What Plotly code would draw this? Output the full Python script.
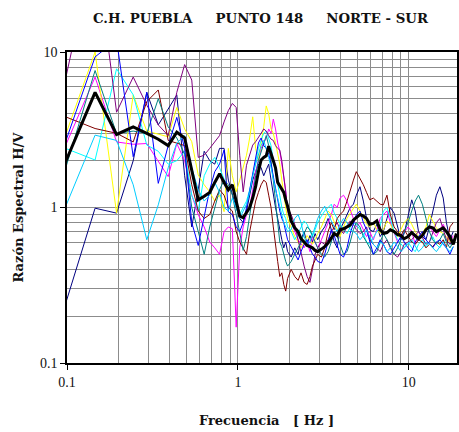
import plotly.graph_objects as go

FREQ = [0.098, 0.146, 0.195, 0.244, 0.293, 0.342, 0.391, 0.439, 0.488, 0.537, 0.586, 0.635, 0.684, 0.732, 0.781, 0.830, 0.879, 0.928, 0.977,
        1.025, 1.074, 1.123, 1.172, 1.221, 1.270, 1.318, 1.367, 1.416, 1.465, 1.514, 1.563, 1.611, 1.660, 1.709, 1.758, 1.807, 1.855, 1.904, 1.953,
        2.05, 2.15, 2.25, 2.34, 2.44, 2.54, 2.64, 2.73, 2.83, 2.93,
        3.08, 3.22, 3.37, 3.52, 3.66, 3.81, 3.96, 4.15, 4.35, 4.54, 4.74, 4.93,
        5.18, 5.42, 5.66, 5.91, 6.20, 6.50, 6.80, 7.10, 7.45, 7.80, 8.20, 8.60, 9.00, 9.40, 9.90,
        10.4, 10.9, 11.4, 12.0, 12.6, 13.2, 13.8, 14.5, 15.2, 15.9, 16.6, 17.4, 18.2, 19.0]

NAVY = [0.24, 0.99, 0.92, 2.0, 5.5, 3.4, 4.3, 5.3, 1.6, 0.75, 1.3, 2.3, 2.0, 1.9, 2.4, 2.4, 1.5, 1.2, 1.0,
        0.85, 0.8, 0.95, 1.2, 1.5, 1.7, 1.9, 1.8, 1.6, 1.75, 1.9, 1.5, 1.2, 1.0, 0.85, 0.7, 0.62, 0.55, 0.6,
        0.52, 0.48, 0.55, 0.5, 0.62, 0.7, 0.58, 0.66, 0.6, 0.68,
        0.62, 0.7, 0.75, 0.85, 0.72, 0.6, 0.55, 0.72, 0.8, 0.9, 1.0, 1.05,
        1.2, 1.36, 1.1, 0.85, 0.72, 0.7, 0.78, 0.65, 0.7, 0.85, 1.0, 0.92, 0.75, 0.62, 0.68,
        0.9, 1.12, 0.95, 0.7, 0.65, 0.62, 0.75, 0.95, 1.2, 1.36, 1.15, 0.8, 0.62, 0.7]

MAGENTA = [2.5, 6.9, 2.64, 2.55, 2.58, 2.0, 1.58, 2.58, 2.0, 1.2, 0.9, 0.75, 0.6, 0.55, 0.5, 0.7, 0.75, 0.73, 0.17,
           0.55, 0.75, 0.9, 1.0, 1.3, 1.7, 2.0, 2.4, 2.6, 2.8, 3.2, 3.0, 3.7, 3.2, 2.6, 2.3, 1.9, 1.6, 1.3,
           0.95, 0.8, 0.7, 0.62, 0.58, 0.55, 0.6, 0.52, 0.65, 0.6,
           0.55, 0.62, 0.7, 0.8, 0.9, 1.05, 1.0, 1.15, 1.2, 1.1, 0.95, 0.85,
           0.75, 0.8, 0.72, 0.65, 0.7, 0.62, 0.72, 0.85, 0.9, 0.95, 0.8, 0.68, 0.6, 0.65, 0.7,
           0.75, 0.7, 0.58, 0.62, 0.68, 0.72, 0.75, 0.7, 0.65, 0.72, 0.78, 0.7, 0.6, 0.66]

YELLOW = [2.92, 10.0, 0.92, 5.3, 3.1, 2.95, 2.85, 4.4, 3.2, 2.65, 1.62, 1.4, 1.26, 1.1, 1.2, 0.94, 2.4, 1.6, 1.26,
          1.5, 1.8, 2.17, 2.8, 3.83, 2.4, 2.0, 2.6, 3.3, 4.5, 4.0, 3.2, 3.0, 2.6, 2.2, 1.9, 1.5, 1.2, 1.0,
          0.85, 0.75, 0.65, 0.6, 0.55, 0.6, 0.66, 0.62, 0.58, 0.62,
          0.68, 0.75, 0.85, 0.95, 0.9, 0.8, 0.72, 0.65, 0.75, 0.85, 0.92, 0.98,
          1.05, 0.95, 0.85, 0.78, 0.75, 0.8, 0.72, 0.68, 0.72, 0.82, 0.78, 0.7, 0.65, 0.72, 0.8,
          0.85, 0.78, 0.7, 0.65, 0.68, 0.75, 0.9, 0.82, 0.74, 0.7, 0.68, 0.65, 0.6, 0.62]

CYAN = [2.4, 2.02, 7.8, 5.3, 2.52, 2.3, 1.9, 2.0, 2.3, 1.2, 0.95, 1.6, 1.9, 2.1, 1.8, 1.5, 1.3, 1.4, 1.1,
        0.9, 1.0, 1.1, 1.3, 1.6, 2.0, 2.4, 2.7, 3.0, 3.1, 2.8, 2.5, 2.0, 1.7, 1.4, 1.2, 1.0, 0.9, 0.85,
        0.75, 0.7, 0.62, 0.68, 0.75, 0.82, 0.78, 0.7, 0.65, 0.72,
        0.8, 0.88, 0.95, 1.0, 1.05, 0.92, 0.85, 0.8, 0.72, 0.68, 0.75, 0.8,
        0.78, 0.72, 0.68, 0.6, 0.58, 0.64, 0.7, 0.76, 0.95, 1.0, 0.85, 0.7, 0.62, 0.58, 0.55,
        0.6, 0.55, 0.52, 0.58, 0.62, 0.56, 0.6, 0.65, 0.58, 0.55, 0.6, 0.62, 0.58, 0.6]

SKYBLUE = [1.01, 2.92, 2.7, 1.4, 0.62, 1.04, 1.8, 2.6, 2.9, 1.8, 1.3, 1.1, 1.2, 1.45, 1.25, 1.0, 0.95, 1.15, 1.0,
           0.85, 0.95, 1.05, 1.25, 1.6, 1.9, 2.2, 2.5, 2.7, 2.4, 2.1, 1.8, 1.5, 1.3, 1.15, 1.0, 0.9, 0.8, 0.75,
           0.7, 0.72, 0.85, 0.9, 0.8, 0.65, 0.58, 0.6, 0.68, 0.75,
           0.85, 0.95, 1.02, 0.9, 0.82, 0.75, 0.7, 0.78, 0.85, 0.8, 0.72, 0.7,
           0.68, 0.62, 0.66, 0.72, 0.65, 0.58, 0.55, 0.6, 0.58, 0.52, 0.55, 0.6, 0.56, 0.52, 0.55,
           0.58, 0.62, 0.56, 0.52, 0.55, 0.6, 0.58, 0.55, 0.52, 0.56, 0.6, 0.55, 0.52, 0.56]

PURPLE = [6.7, 50.0, 4.1, 6.9, 4.55, 3.4, 2.9, 5.5, 8.3, 6.6, 2.1, 2.17, 2.4, 2.65, 2.9, 3.55, 4.2, 4.67, 4.4,
          2.17, 1.26, 1.87, 2.17, 2.52, 2.65, 2.85, 3.0, 3.2, 3.1, 2.9, 2.75, 2.7, 2.5, 2.4, 2.34, 2.0, 1.6, 1.26,
          1.0, 0.9, 0.78, 0.62, 0.5, 0.42, 0.36, 0.33, 0.4, 0.5,
          0.55, 0.6, 0.58, 0.62, 0.7, 0.75, 0.8, 0.72, 0.68, 0.75, 0.82, 0.78,
          0.72, 0.68, 0.7, 0.75, 0.62, 0.58, 0.55, 0.52, 0.58, 0.62, 0.55, 0.5, 0.48, 0.52, 0.58,
          0.6, 0.62, 0.66, 0.7, 0.64, 0.58, 0.6, 0.68, 0.8, 0.85, 0.72, 0.62, 0.58, 0.62]

MAROON = [3.83, 3.22, 3.0, 2.64, 4.8, 5.7, 2.7, 2.6, 2.5, 1.4, 0.95, 0.85, 0.9, 1.1, 1.3, 1.2, 1.0, 0.95, 0.7,
          0.6, 0.55, 0.5, 0.7, 0.9, 1.1, 1.25, 1.4, 1.5, 1.45, 1.2, 1.0, 0.75, 0.55, 0.45, 0.36, 0.38, 0.32, 0.29,
          0.35, 0.4, 0.36, 0.34, 0.38, 0.33, 0.32, 0.36, 0.42, 0.46,
          0.5, 0.48, 0.55, 0.7, 0.8, 0.72, 0.85, 0.9, 0.95, 1.1, 1.3, 1.5,
          1.7, 1.55, 1.4, 1.25, 1.12, 1.15, 1.1, 1.05, 1.04, 1.2, 0.9, 0.75, 0.7, 0.66, 0.72,
          0.65, 0.6, 0.58, 0.62, 0.6, 0.55, 0.58, 0.56, 0.6, 0.58, 0.62, 0.55, 0.75, 0.8]

TEAL = [1.78, 7.6, 2.99, 3.1, 3.0, 5.0, 3.3, 2.8, 2.2, 1.0, 0.7, 0.5, 0.75, 1.0, 1.3, 1.5, 1.4, 1.2, 0.9,
        0.7, 0.53, 0.65, 0.9, 1.2, 1.6, 2.0, 2.3, 2.6, 2.9, 2.5, 2.0, 1.5, 1.1, 0.8, 0.6, 0.56, 0.5, 0.45,
        0.42, 0.45, 0.5, 0.55, 0.6, 0.68, 0.75, 0.72, 0.65, 0.6,
        0.55, 0.5, 0.48, 0.52, 0.6, 0.7, 0.65, 0.58, 0.5, 0.52, 0.6, 0.72,
        0.8, 0.75, 0.65, 0.6, 0.55, 0.5, 0.52, 0.6, 0.68, 0.62, 0.56, 0.5, 0.55, 0.62, 0.7,
        0.8, 0.95, 1.1, 1.2, 1.05, 0.85, 0.7, 0.62, 0.58, 0.62, 0.68, 0.6, 0.55, 0.6]

BLUE = [2.64, 9.3, 12.0, 2.12, 5.5, 1.43, 2.5, 3.8, 2.4, 0.8, 0.57, 0.9, 1.3, 1.7, 1.9, 2.34, 0.94, 0.9, 0.75,
        0.7, 0.8, 1.0, 1.3, 1.7, 2.2, 2.6, 2.8, 2.5, 2.4, 2.2, 1.9, 1.6, 1.3, 1.1, 0.95, 0.85, 0.8, 0.7,
        0.62, 0.56, 0.5, 0.46, 0.52, 0.58, 0.62, 0.55, 0.5, 0.48,
        0.45, 0.44, 0.5, 0.6, 0.72, 0.66, 0.58, 0.5, 0.48, 0.55, 0.68, 0.8,
        0.9, 0.95, 0.8, 0.72, 0.6, 0.5, 0.55, 0.62, 0.58, 0.52, 0.5, 0.55, 0.6, 0.65, 0.6,
        0.55, 0.52, 0.6, 0.65, 0.7, 0.62, 0.58, 0.55, 0.6, 0.62, 0.58, 0.55, 0.5, 0.56]

PROMEDIO = [1.96, 5.5, 2.95, 3.3, 3.0, 2.75, 2.5, 3.05, 2.8, 1.7, 1.12, 1.18, 1.25, 1.45, 1.65, 1.45, 1.3, 1.4, 1.1,
            0.88, 0.86, 0.93, 1.0, 1.15, 1.36, 1.7, 2.02, 2.1, 2.15, 2.48, 2.25, 2.0, 1.8, 1.45, 1.38, 1.32, 1.25, 1.12, 1.02,
            0.82, 0.74, 0.7, 0.63, 0.6, 0.57, 0.56, 0.55, 0.53, 0.52,
            0.54, 0.56, 0.59, 0.63, 0.68, 0.66, 0.72, 0.73, 0.75, 0.77, 0.83, 0.86,
            0.9, 0.88, 0.85, 0.78, 0.79, 0.82, 0.72, 0.68, 0.69, 0.72, 0.7, 0.67, 0.66, 0.63, 0.65,
            0.69, 0.66, 0.63, 0.66, 0.72, 0.75, 0.74, 0.70, 0.72, 0.74, 0.70, 0.65, 0.58, 0.68]

SERIES = [
    ("Navy", NAVY, "#000080"),
    ("Magenta", MAGENTA, "#FF00FF"),
    ("Yellow", YELLOW, "#FFFF00"),
    ("Cyan", CYAN, "#00FFFF"),
    ("Purple", PURPLE, "#800080"),
    ("Maroon", MAROON, "#800000"),
    ("Teal", TEAL, "#008080"),
    ("Blue", BLUE, "#0000FF"),
    ("SkyBlue", SKYBLUE, "#00CCFF"),
]

fig = go.Figure()
for name, vals, col in SERIES:
    fig.add_trace(go.Scatter(x=FREQ, y=vals, mode="lines", name=name,
                             line=dict(color=col, width=1)))
fig.add_trace(go.Scatter(x=FREQ, y=PROMEDIO, mode="lines", name="Promedio",
                         line=dict(color="#000000", width=3)))

FONT = "Liberation Serif, Times New Roman, serif"
TFONT = "DejaVu Serif, serif"
GRID = "#8c8c8c"
MINOR_X = [0.2, 0.3, 0.4, 0.5, 0.6, 0.7, 0.8, 0.9, 2, 3, 4, 5, 6, 7, 8, 9]
MINOR_Y = [0.2, 0.3, 0.4, 0.5, 0.6, 0.7, 0.8, 0.9, 2, 3, 4, 5, 6, 7, 8, 9]

fig.update_layout(
    width=459, height=432,
    margin=dict(l=67, r=0, t=52, b=69),
    paper_bgcolor="white", plot_bgcolor="white",
    showlegend=False,
    font=dict(family=FONT, size=13, color="#111"),
    xaxis=dict(type="log", range=[-1, 1.282],
               tickvals=[0.1, 1, 10], ticktext=["0.1", "1", "10"],
               ticks="outside", ticklen=5, tickcolor="black",
               showline=True, linecolor="black", linewidth=1.5, mirror=True,
               showgrid=True, gridcolor=GRID, gridwidth=1,
               minor=dict(tickmode="array", tickvals=MINOR_X, showgrid=True,
                          gridcolor=GRID, gridwidth=1, ticks=""),
               zeroline=False, tickfont=dict(family=FONT, size=14)),
    yaxis=dict(type="log", range=[-1, 1],
               tickvals=[0.1, 1, 10], ticktext=["0.1", "1", "10"],
               ticks="outside", ticklen=5, tickcolor="black",
               showline=True, linecolor="black", linewidth=1.5, mirror=True,
               showgrid=True, gridcolor=GRID, gridwidth=1,
               minor=dict(tickmode="array", tickvals=MINOR_Y, showgrid=True,
                          gridcolor=GRID, gridwidth=1, ticks=""),
               zeroline=False, tickfont=dict(family=FONT, size=14)),
    annotations=[
        dict(text="<b>C.H. PUEBLA\u00a0\u00a0\u00a0\u00a0\u00a0PUNTO 148\u00a0\u00a0\u00a0\u00a0\u00a0NORTE - SUR</b>",
             xref="paper", yref="paper", x=0.497, y=1.0, yshift=34,
             xanchor="center", yanchor="middle", showarrow=False,
             font=dict(family=TFONT, size=13.3, color="#111")),
        dict(text="<b>Razón Espectral H/V</b>", textangle=-90,
             xref="paper", yref="paper", x=0, xshift=-49, y=0.5,
             xanchor="center", yanchor="middle", showarrow=False,
             font=dict(family=TFONT, size=13, color="#111")),
        dict(text="<b>Frecuencia\u00a0\u00a0\u00a0[ Hz ]</b>",
             xref="paper", yref="paper", x=0.512, y=0, yshift=-57,
             xanchor="center", yanchor="middle", showarrow=False,
             font=dict(family=TFONT, size=13, color="#111")),
    ],
)

fig.write_html("out.html", config={"displayModeBar": False},
               post_script="document.body.style.margin='0';document.body.style.padding='0';")
